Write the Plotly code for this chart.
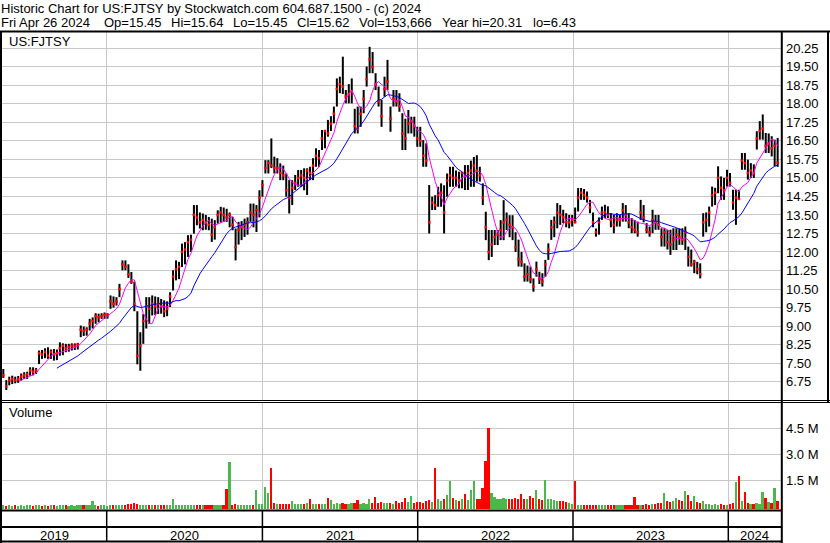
import pandas as pd
import plotly.graph_objects as go

W, H = 830, 543
FONT = "Liberation Sans, Arial, sans-serif"
GRID = "#c8c8c8"

# weekly bars, one per Friday from 2019-05-03 to 2024-04-26
WEEK_START = "2019-05-03"
LOW = [
    6.90, 6.41, 6.60, 6.65, 6.68, 6.70, 6.79, 6.86, 6.86, 6.99,
    7.00, 7.06, 7.46, 7.67, 7.70, 7.67, 7.67, 7.60, 7.62, 7.80,
    7.82, 7.94, 7.96, 8.01, 8.03, 8.05, 8.55, 8.60, 8.61, 8.82,
    8.90, 9.09, 9.15, 9.29, 9.29, 9.30, 9.70, 9.75, 9.83, 10.17,
    11.26, 11.26, 10.95, 10.71, 9.60, 7.45, 7.19, 8.28, 8.90, 9.09,
    9.43, 9.45, 9.49, 9.50, 9.36, 9.40, 9.77, 10.44, 10.85, 10.90,
    11.39, 11.50, 11.80, 12.00, 12.74, 13.08, 12.95, 12.88, 12.90, 12.88,
    12.41, 12.50, 13.15, 13.20, 13.22, 13.22, 13.00, 12.88, 11.66, 12.30,
    12.48, 12.61, 12.70, 13.22, 13.00, 12.81, 13.40, 14.24, 15.18, 15.18,
    15.40, 15.18, 15.18, 14.91, 14.91, 14.24, 13.56, 13.90, 14.51, 14.64,
    14.64, 14.50, 14.31, 14.91, 14.91, 15.45, 15.45, 16.13, 16.20, 16.67,
    16.90, 17.21, 17.89, 18.43, 18.40, 18.02, 18.02, 18.02, 16.80, 16.80,
    17.07, 17.62, 18.70, 19.24, 19.24, 18.56, 17.89, 17.07, 18.29, 18.56,
    16.87, 17.89, 17.89, 17.68, 16.13, 16.13, 16.80, 16.80, 16.67, 16.26,
    16.26, 15.45, 15.45, 12.75, 13.70, 13.70, 13.83, 13.83, 12.75, 14.24,
    14.64, 14.64, 14.64, 14.58, 14.58, 14.51, 14.51, 14.64, 14.64, 14.85,
    14.85, 13.90, 12.48, 11.67, 11.80, 12.28, 12.28, 12.48, 12.48, 12.89,
    12.60, 12.48, 12.00, 11.41, 11.40, 10.80, 10.80, 10.73, 10.39, 11.00,
    10.70, 10.60, 11.00, 11.68, 12.49, 12.60, 12.96, 13.10, 13.17, 13.00,
    12.96, 13.03, 13.20, 13.64, 14.11, 14.11, 14.00, 13.57, 13.00, 12.62,
    12.70, 13.30, 13.37, 13.37, 13.00, 12.76, 13.03, 13.03, 13.23, 13.23,
    12.96, 12.76, 12.76, 12.62, 13.30, 13.20, 12.76, 12.62, 12.76, 12.90,
    12.90, 12.22, 12.22, 12.10, 11.88, 12.08, 12.08, 12.29, 12.29, 12.08,
    11.41, 11.41, 11.14, 11.10, 10.93, 12.62, 12.80, 13.03, 13.84, 13.90,
    14.38, 14.11, 14.11, 14.65, 14.65, 13.71, 13.10, 14.11, 15.33, 15.33,
    14.93, 15.00, 15.00, 16.15, 16.55, 16.55, 16.01, 16.01, 15.87, 15.47,
    15.45,
]
HIGH = [
    7.26, 6.81, 6.95, 6.99, 6.95, 6.98, 7.08, 7.13, 7.15, 7.33,
    7.33, 7.30, 8.01, 8.03, 8.10, 8.14, 8.05, 8.07, 8.05, 8.34,
    8.30, 8.28, 8.28, 8.30, 8.30, 8.32, 9.02, 8.98, 8.95, 9.29,
    9.35, 9.52, 9.50, 9.52, 9.55, 9.52, 10.24, 10.20, 10.17, 10.71,
    11.66, 11.66, 11.50, 11.19, 10.80, 9.60, 8.75, 9.49, 10.17, 10.17,
    10.24, 10.20, 10.17, 10.10, 10.04, 10.00, 10.37, 11.26, 11.66, 11.60,
    12.34, 12.40, 12.68, 12.70, 13.90, 13.90, 13.60, 13.56, 13.50, 13.42,
    13.35, 13.29, 13.69, 13.83, 13.80, 13.75, 13.60, 13.42, 12.95, 13.22,
    13.25, 13.35, 13.40, 13.96, 13.96, 13.90, 14.50, 14.91, 15.72, 15.72,
    16.60, 15.86, 15.80, 15.59, 15.50, 15.18, 14.91, 14.91, 15.12, 15.32,
    15.32, 15.39, 15.39, 15.45, 15.80, 16.20, 16.13, 16.94, 16.94, 17.35,
    17.50, 17.89, 19.03, 19.10, 19.91, 18.56, 18.80, 19.03, 17.80, 17.89,
    17.89, 18.56, 19.51, 20.31, 20.10, 19.24, 18.70, 18.16, 19.10, 19.78,
    17.89, 18.56, 18.56, 18.43, 17.62, 17.40, 17.75, 17.48, 17.48, 17.07,
    17.07, 16.53, 16.40, 14.71, 14.24, 14.30, 14.64, 14.78, 14.70, 15.18,
    15.45, 15.45, 15.30, 15.25, 15.20, 15.52, 15.52, 15.70, 15.85, 15.92,
    15.45, 14.78, 13.63, 12.89, 12.89, 12.89, 12.89, 13.29, 14.10, 13.60,
    13.49, 13.49, 12.80, 12.50, 12.00, 11.54, 11.45, 11.41, 10.93, 11.61,
    11.20, 11.14, 11.68, 12.35, 13.30, 13.44, 13.98, 13.90, 13.71, 13.57,
    13.50, 13.50, 13.80, 14.59, 14.59, 14.55, 14.45, 14.11, 13.60, 12.95,
    13.40, 13.84, 13.91, 13.85, 13.57, 13.50, 13.57, 13.50, 13.98, 13.90,
    13.57, 13.37, 13.30, 13.23, 14.11, 13.90, 13.17, 13.03, 13.71, 13.50,
    13.50, 12.96, 12.96, 12.90, 12.90, 12.96, 12.96, 12.96, 12.96, 13.03,
    12.22, 12.10, 11.68, 11.60, 11.54, 13.57, 13.60, 13.84, 14.65, 14.60,
    15.47, 15.06, 15.00, 15.33, 15.20, 14.52, 14.52, 14.52, 16.01, 16.01,
    15.74, 15.60, 15.55, 16.89, 17.30, 17.57, 16.82, 16.80, 16.69, 16.55,
    16.62,
]
CLOSE = [
    7.00, 6.55, 6.80, 6.85, 6.80, 6.85, 6.95, 7.00, 7.05, 7.20,
    7.15, 7.20, 7.90, 7.85, 7.95, 7.80, 7.95, 7.85, 7.90, 8.10,
    8.20, 8.10, 8.15, 8.20, 8.20, 8.25, 8.85, 8.80, 8.85, 9.10,
    9.20, 9.40, 9.35, 9.40, 9.45, 9.45, 10.00, 9.90, 10.00, 10.50,
    11.50, 11.40, 11.10, 10.80, 9.90, 7.80, 8.20, 9.20, 9.80, 9.70,
    9.90, 9.80, 9.90, 9.80, 9.60, 9.70, 10.20, 11.00, 11.30, 11.40,
    12.00, 12.10, 12.40, 12.50, 13.50, 13.40, 13.20, 13.30, 13.20, 13.10,
    12.70, 13.00, 13.50, 13.60, 13.50, 13.40, 13.50, 13.10, 12.20, 12.90,
    13.00, 13.10, 13.20, 13.60, 13.50, 13.70, 14.20, 14.70, 15.40, 15.60,
    15.50, 15.40, 15.40, 15.20, 15.10, 14.50, 14.20, 14.60, 14.80, 15.00,
    15.10, 15.00, 15.30, 15.20, 15.50, 15.90, 15.80, 16.60, 16.90, 16.80,
    17.20, 17.60, 18.60, 18.80, 18.70, 18.30, 18.40, 18.50, 17.10, 17.00,
    17.60, 18.20, 19.00, 19.80, 19.50, 18.80, 18.10, 17.50, 18.60, 18.90,
    17.40, 18.20, 18.10, 17.90, 16.80, 16.60, 17.20, 17.30, 17.10, 16.60,
    16.50, 15.90, 15.70, 13.20, 14.00, 13.90, 14.30, 14.40, 13.60, 14.90,
    15.10, 15.00, 15.00, 14.90, 15.20, 15.10, 15.20, 15.30, 15.50, 15.30,
    15.10, 14.20, 13.00, 12.00, 12.30, 12.60, 12.70, 12.90, 13.20, 13.30,
    13.10, 13.00, 12.20, 11.70, 11.60, 11.00, 11.10, 10.90, 10.60, 11.30,
    10.90, 10.80, 11.50, 12.10, 13.00, 13.20, 13.60, 13.50, 13.40, 13.20,
    13.20, 13.30, 13.20, 14.20, 14.40, 14.30, 14.20, 13.80, 13.20, 12.80,
    13.20, 13.60, 13.60, 13.50, 13.30, 13.10, 13.30, 13.30, 13.70, 13.50,
    13.20, 13.00, 12.90, 12.80, 13.60, 13.40, 12.90, 12.80, 13.30, 13.20,
    13.10, 12.60, 12.80, 12.40, 12.30, 12.50, 12.70, 12.60, 12.50, 12.80,
    11.80, 11.50, 11.60, 11.30, 11.10, 13.20, 13.30, 13.60, 14.30, 14.40,
    15.00, 14.60, 14.50, 15.00, 14.80, 14.00, 14.20, 14.15, 15.70, 15.60,
    15.20, 15.30, 15.20, 16.60, 16.90, 17.00, 16.30, 16.40, 16.20, 16.30,
    15.62,
]
# volume in millions of shares
VOLUME_M = [
    0.05, 0.04, 0.05, 0.04, 0.08, 0.04, 0.05, 0.04, 0.07, 0.05,
    0.04, 0.05, 0.06, 0.04, 0.05, 0.04, 0.05, 0.06, 0.04, 0.05,
    0.07, 0.05, 0.04, 0.05, 0.04, 0.05, 0.06, 0.08, 0.05, 0.06,
    0.30, 0.05, 0.04, 0.05, 0.06, 0.04, 0.05, 0.06, 0.05, 0.07,
    0.08, 0.10, 0.12, 0.15, 0.18, 0.12, 0.10, 0.08, 0.10, 0.07,
    0.06, 0.08, 0.07, 0.06, 0.08, 0.06, 0.07, 0.42, 0.08, 0.06,
    0.07, 0.06, 0.08, 0.07, 0.06, 0.08, 0.07, 0.06, 0.08, 0.10,
    0.07, 0.06, 0.08, 0.07, 0.09, 1.00, 2.55, 0.10, 0.12, 0.08,
    0.07, 0.08, 0.06, 0.09, 0.10, 0.94, 0.15, 0.12, 1.11, 0.79,
    2.21, 0.20, 0.15, 0.12, 0.14, 0.12, 0.15, 0.30, 0.12, 0.14,
    0.13, 0.15, 0.18, 0.42, 0.14, 0.16, 0.13, 0.15, 0.14, 0.48,
    0.34, 0.15, 0.18, 0.16, 0.20, 0.14, 0.15, 0.17, 0.20, 0.36,
    0.16, 0.18, 0.15, 0.42, 0.20, 0.54, 0.18, 0.22, 0.17, 0.20,
    0.18, 0.15, 0.30, 0.20, 0.25, 0.48, 0.22, 0.61, 0.20, 0.25,
    0.22, 0.20, 0.28, 0.34, 0.25, 2.23, 0.40, 0.30, 0.45, 0.65,
    1.46, 0.50, 0.35, 0.30, 0.40, 0.73, 0.35, 0.92, 1.46, 0.40,
    0.45, 1.04, 2.61, 4.50, 0.79, 0.55, 0.45, 0.40, 0.50, 0.42,
    0.45, 0.40, 0.48, 0.42, 0.71, 0.40, 0.45, 0.61, 0.50, 0.94,
    0.40, 0.35, 1.52, 0.45, 0.40, 0.35, 0.30, 0.32, 0.28, 0.25,
    0.20, 0.12, 1.46, 0.10, 0.08, 0.10, 0.08, 0.07, 0.09, 0.08,
    0.07, 0.08, 0.06, 0.07, 0.08, 0.09, 0.07, 0.08, 0.10, 0.08,
    0.07, 0.08, 0.54, 0.10, 0.08, 0.09, 0.12, 0.10, 0.15, 0.12,
    0.18, 0.20, 0.79, 0.30, 0.25, 0.30, 0.46, 0.35, 0.30, 0.90,
    0.65, 0.30, 0.60, 0.25, 0.20, 0.30, 0.15, 0.12, 0.10, 0.12,
    0.10, 0.12, 0.09, 0.10, 0.12, 0.20, 1.38, 1.75, 0.30, 0.80,
    0.20, 0.15, 0.12, 0.18, 0.15, 0.85, 0.50, 0.25, 0.20, 1.04,
    0.30,
]

PRICE_TICKS = [6.75, 7.50, 8.25, 9.00, 9.75, 10.50, 11.25, 12.00, 12.75, 13.50,
               14.25, 15.00, 15.75, 16.50, 17.25, 18.00, 18.75, 19.50, 20.25]
VOLUME_TICKS = [1.5, 3.0, 4.5]
VOLUME_LABELS = ["1.5 M", "3.0 M", "4.5 M"]
YEARS = ["2019", "2020", "2021", "2022", "2023", "2024"]
YEAR_BREAKS = ["2020-01-01", "2021-01-01", "2022-01-01", "2023-01-01", "2024-01-01"]
X_RANGE = ["2019-04-29 22:00", "2024-05-03 21:00"]
PRICE_RANGE = [6.005, 20.91]
VOL_RANGE = [-0.156, 5.96]

HEADER = "Historic Chart for US:FJTSY by Stockwatch.com 604.687.1500 - (c) 2024"
QUOTE_ITEMS = [("Fri Apr 26 2024", 1), ("Op=15.45", 104), ("Hi=15.64", 171),
               ("Lo=15.45", 233), ("Cl=15.62", 297), ("Vol=153,666", 359),
               ("Year hi=20.31", 442), ("lo=6.43", 533)]

assert len(LOW) == len(HIGH) == len(CLOSE) == len(VOLUME_M)


def fx(x):
    return x / W


def fy(y):
    return 1 - y / H


dates = pd.date_range(WEEK_START, periods=len(CLOSE), freq="7D")
close = pd.Series(CLOSE)
ma_fast = close.rolling(6).mean()
ma_slow = close.rolling(19).mean()

vol_colors = ["#4cb84c"] + [
    "#4cb84c" if c >= p else "#ff0000" for p, c in zip(CLOSE[:-1], CLOSE[1:])
]

# high-low bars as vertical segments
seg_x, seg_y = [], []
for d, lo, hi in zip(dates, LOW, HIGH):
    seg_x += [d, d, None]
    seg_y += [lo, hi, None]

fig = go.Figure()
fig.add_trace(go.Scatter(x=seg_x, y=seg_y, mode="lines",
                         line=dict(color="black", width=2), hoverinfo="skip"))
fig.add_trace(go.Scatter(x=dates, y=CLOSE, mode="markers",
                         marker=dict(symbol="square", size=2.5, color="#ff0000",
                                     line=dict(width=0)),
                         hoverinfo="skip"))
fig.add_trace(go.Scatter(x=dates, y=ma_fast, mode="lines",
                         line=dict(color="#ff00ff", width=1), hoverinfo="skip"))
fig.add_trace(go.Scatter(x=dates, y=ma_slow, mode="lines",
                         line=dict(color="#0000ff", width=1), hoverinfo="skip"))
fig.add_trace(go.Bar(x=dates, y=[v - VOL_RANGE[0] for v in VOLUME_M], base=VOL_RANGE[0],
                     width=4 * 86400000, marker=dict(color=vol_colors, line=dict(width=0)),
                     xaxis="x2", yaxis="y2", hoverinfo="skip"))

xcommon = dict(type="date", range=X_RANGE, tickvals=YEAR_BREAKS, showticklabels=False,
               ticks="", showgrid=True, gridcolor=GRID, gridwidth=1,
               zeroline=False, showline=False, domain=[fx(2), fx(781)])
ycommon = dict(side="right", ticks="", showgrid=True, gridcolor=GRID, gridwidth=1,
               zeroline=False, showline=False, ticklabelstandoff=4,
               tickfont=dict(family=FONT, size=13, color="black"))

shapes = []


def hline(y, x0, x1, w):
    shapes.append(dict(type="line", xref="paper", yref="paper", x0=fx(x0), x1=fx(x1),
                       y0=fy(y), y1=fy(y), line=dict(color="black", width=w)))


def vline(x, y0, y1, w):
    shapes.append(dict(type="line", xref="paper", yref="paper", x0=fx(x), x1=fx(x),
                       y0=fy(y0), y1=fy(y1), line=dict(color="black", width=w)))


hline(31.5, 0, 830, 2)
hline(400.5, 0, 830, 1)
hline(402.5, 0, 830, 1)
hline(510.5, 0, 782, 2)
hline(527, 0, 782, 2)
hline(541.5, 0, 782, 2)
vline(1, 31, 543, 2)
vline(781.8, 31, 543, 2)
vline(828, 31, 403, 2)
for b in YEAR_BREAKS:
    shapes.append(dict(type="line", xref="x", yref="paper", x0=b, x1=b,
                       y0=fy(510), y1=fy(542), line=dict(color="black", width=1.5)))

annotations = []


def label(text, x, y, size=13, xref="paper", xanchor="left"):
    annotations.append(dict(text=text, x=x, y=y, xref=xref, yref="paper",
                            xanchor=xanchor, yanchor="middle", showarrow=False,
                            borderpad=0, borderwidth=0,
                            font=dict(family=FONT, size=size, color="black")))


label(HEADER, fx(1), fy(8.7))
for text, x in QUOTE_ITEMS:
    label(text, fx(x), fy(22.8))
label("US:FJTSY", fx(8.5), fy(41))
label("Volume", fx(8.5), fy(413))

edges = [pd.Timestamp(X_RANGE[0])] + [pd.Timestamp(b) for b in YEAR_BREAKS] + [pd.Timestamp(X_RANGE[1])]
for yr, a, b in zip(YEARS, edges[:-1], edges[1:]):
    label(yr, a + (b - a) / 2, fy(535), xref="x", xanchor="center")

fig.update_layout(
    width=W, height=H,
    margin=dict(l=0, r=0, t=0, b=0),
    paper_bgcolor="white", plot_bgcolor="white",
    showlegend=False, hovermode=False, bargap=0,
    xaxis=dict(anchor="y", **xcommon),
    xaxis2=dict(anchor="y2", matches="x", **xcommon),
    yaxis=dict(anchor="x", domain=[fy(400), fy(32)], range=PRICE_RANGE,
               tickvals=PRICE_TICKS, tickformat=".2f", **ycommon),
    yaxis2=dict(anchor="x2", domain=[fy(509), fy(403)], range=VOL_RANGE,
                tickvals=VOLUME_TICKS, ticktext=VOLUME_LABELS, **ycommon),
    shapes=shapes,
    annotations=annotations,
)

# the page's default body margin would shift the figure by 8px
fig.write_html("out.html", config={"displayModeBar": False},
               post_script="document.body.style.margin='0';")
